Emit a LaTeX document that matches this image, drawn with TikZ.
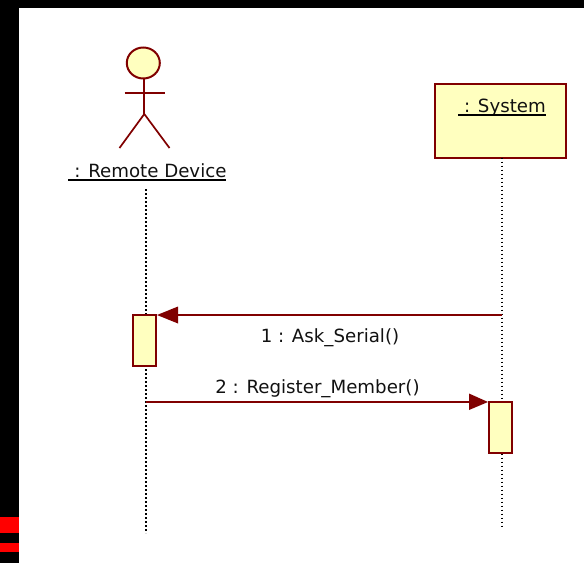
\documentclass[tikz,border=0pt]{standalone}
\usepackage{fontspec}
\setmainfont{DejaVu Sans}
\usetikzlibrary{shapes.geometric}
\definecolor{umlline}{HTML}{800000}
\definecolor{umlfill}{HTML}{FFFFBF}
\definecolor{umltext}{HTML}{111111}
\tikzset{
  x=1pt,y=-1pt,
  umlbox/.style={draw=umlline,fill=umlfill,line width=2pt,inner sep=0pt,outer sep=0pt},
  lifeline/.style={draw=black,line width=1.7pt,dash pattern=on 1.7pt off 2.3pt},
  msg/.style={draw=umlline,line width=1.6pt},
  tip/.style={fill=umlline,draw=none},
  limb/.style={draw=umlline,line width=1.7pt},
  lbl/.style={text=umltext,font=\fontsize{18.2}{20}\selectfont,inner sep=0pt,anchor=base},
  ulabel/.style={draw=black,line width=1.6pt},
}
\begin{document}
\begin{tikzpicture}
\useasboundingbox (0,0) rectangle (584,563);
\fill[black] (0,0) rectangle (584,8);
\fill[black] (0,0) rectangle (19,563);
\fill[red] (0,517) rectangle (19,533);
\fill[red] (0,543) rectangle (19,552);

% lifelines
\coordinate (actorfoot) at (146.3,189);
\coordinate (actorend) at (146.3,533);
\coordinate (sysend) at (501.7,527);
\node[umlbox,minimum width=131pt,minimum height=74pt] (sys) at (500,120.5) {};
\coordinate (systop) at (501.7,157.5);
\draw[lifeline] (actorfoot) -- (actorend);
\draw[lifeline] (systop) -- (sysend);

% activations
\node[umlbox,minimum width=23pt,minimum height=51pt] (acta) at (144.5,340.5) {};
\node[umlbox,minimum width=23pt,minimum height=51pt] (actb) at (500,427) {};

% actor
\node[umlbox,ellipse,minimum width=33pt,minimum height=31pt] (head) at (143.3,63) {};
\coordinate (hip) at (144.3,114);
\coordinate (neck) at (144.3,79);
\coordinate (armL) at (124.5,93);
\coordinate (armR) at (164.5,93);
\coordinate (legL) at (119.5,148);
\coordinate (legR) at (169.5,148);
\draw[limb] (neck) -- (hip);
\draw[limb] (armL) -- (armR);
\draw[limb] (legL) -- (hip) -- (legR);

% labels
\node[lbl] (actorlabel) at (150.5,177.7) {: Remote Device};
\coordinate (ula) at (68,180);
\coordinate (ulb) at (226,180);
\draw[ulabel] (ula) -- (ulb);
\node[lbl] (syslabel) at (505,112) {: System};
\coordinate (ulc) at (458,115);
\coordinate (uld) at (545.5,115);
\draw[ulabel] (ulc) -- (uld);

% messages
\coordinate (m1s) at (501.7,315);
\coordinate (m1e) at (170,315);
\coordinate (m1t) at (157,315);
\draw[msg] (m1s) -- (m1e);
\fill[tip] (m1t) -- (178,306.5) -- (178,323.5) -- cycle;
\node[lbl] (m1) at (330,342.5) {1 : Ask\_Serial()};

\coordinate (m2s) at (146.3,402);
\coordinate (m2e) at (475,402);
\coordinate (m2t) at (488,402);
\draw[msg] (m2s) -- (m2e);
\fill[tip] (m2t) -- (469,393.5) -- (469,410) -- cycle;
\node[lbl] (m2) at (317.5,393) {2 : Register\_Member()};
\end{tikzpicture}
\end{document}
